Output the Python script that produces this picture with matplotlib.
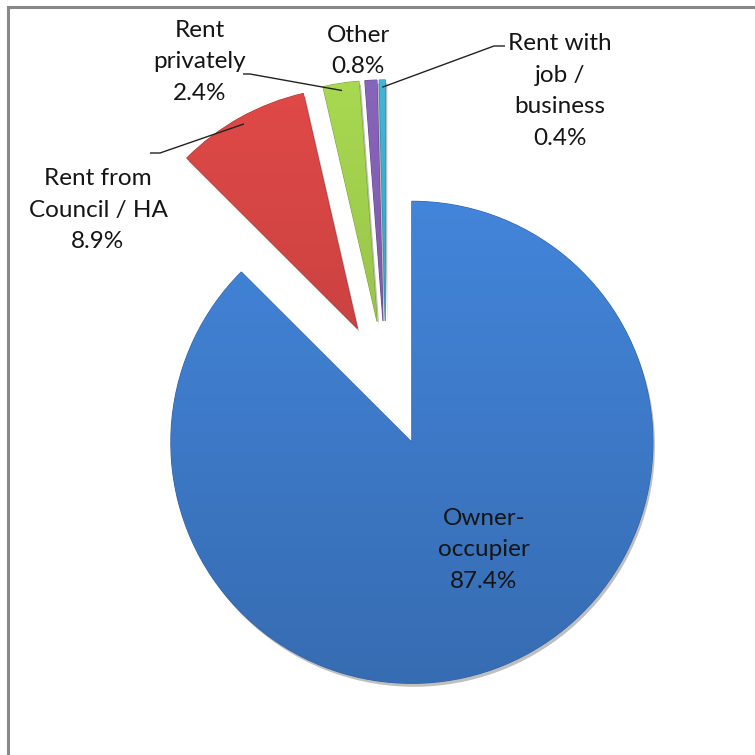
import numpy as np
import matplotlib
matplotlib.use("Agg")
import matplotlib.pyplot as plt
from matplotlib.patches import Rectangle
import matplotlib.patheffects as pe

# ---- data ----
categories = ["Owner-\noccupier", "Rent from\nCouncil / HA", "Rent\nprivately", "Other", "Rent with\njob /\nbusiness"]
values = [87.4, 8.9, 2.4, 0.8, 0.4]
pct_labels = ["87.4%", "8.9%", "2.4%", "0.8%", "0.4%"]
colors = ["#3E7BCA", "#CF4442", "#9CC94B", "#7E5DAE", "#3BA9C7"]
explode_frac = [0.28, 0.245, 0.245, 0.245, 0.245]

W = H = 755
fig = plt.figure(figsize=(7.55, 7.55), dpi=100)
ax = fig.add_axes([0, 0, 1, 1])

FONT = ["Lato", "DejaVu Sans"]
TXT = "#151515"

def S(x, y):
    """screen (top-left origin) -> data"""
    return x, H - y

cx, cy = S(386, 380)
R = 241
explode = [f * R for f in explode_frac]   # matplotlib's explode is in data units
wedges, _ = ax.pie(values, colors=colors, startangle=90, counterclock=False,
                   explode=explode, radius=R, center=(cx, cy), frame=True,
                   wedgeprops=dict(linewidth=0.8, edgecolor="none"))
ax.set_xlim(0, W)
ax.set_ylim(0, H)
ax.set_aspect("equal")
ax.axis("off")

# shading: gradient clipped to each wedge
for w, c in zip(wedges, colors):
    w.set_path_effects([pe.SimplePatchShadow(offset=(1.5, -2.5), alpha=0.25, shadow_rgbFace="k"), pe.Normal()])
    base = np.array(matplotlib.colors.to_rgb(c))
    grad = np.linspace(1.08, 0.88, 256)[:, None, None] * base[None, None, :]
    grad = np.clip(grad, 0, 1)
    cxw, cyw = w.center
    im = ax.imshow(grad, extent=(cxw - R, cxw + R, cyw - R, cyw + R), origin="upper",
                   aspect="auto", zorder=w.get_zorder() + 0.1)
    im.set_clip_path(w)
    w.set_edgecolor(tuple(np.clip(base * 0.8, 0, 1)))
ax.set_xlim(0, W)
ax.set_ylim(0, H)

def arc_point(w, frac=0.97):
    a = np.deg2rad((w.theta1 + w.theta2) / 2)
    return w.center[0] + w.r * frac * np.cos(a), w.center[1] + w.r * frac * np.sin(a)

# labels
label_pos = [S(484, 550), S(98, 210), S(200, 62), S(358, 51), S(560, 91)]
for cat, pct, pos in zip(categories, pct_labels, label_pos):
    ax.text(pos[0], pos[1], cat + "\n" + pct, ha="center", va="center",
            fontsize=17.5, family=FONT, color=TXT, linespacing=1.62, zorder=10)

# leader lines
leaders = {1: [S(150, 153), S(160, 153)], 2: [S(243, 74), S(250, 74)], 4: [S(505, 46), S(494, 46)]}
for i, pts in leaders.items():
    px, py = arc_point(wedges[i])
    xs = [p[0] for p in pts] + [px]
    ys = [p[1] for p in pts] + [py]
    ax.plot(xs, ys, color="#222222", lw=1.0, zorder=9, solid_capstyle="butt")

# border frame
fig.patches.append(Rectangle((8 / W, -0.1), 1.2, (H - 7) / H + 0.1, transform=fig.transFigure,
                             fill=False, edgecolor="#888888", linewidth=2.2))

fig.savefig("out.png", dpi=100, facecolor="white")
